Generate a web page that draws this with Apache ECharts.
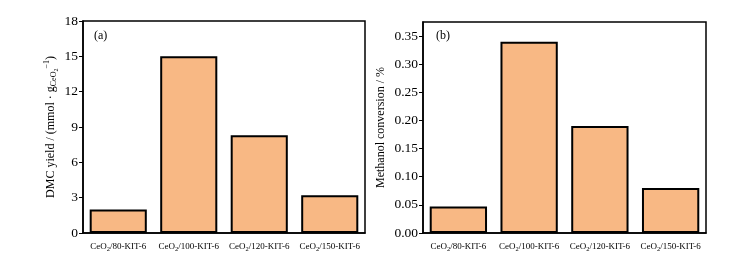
<!DOCTYPE html>
<html>
<head>
<meta charset="utf-8">
<script src="https://cdn.jsdelivr.net/npm/echarts@6/dist/echarts.min.js"></script>
<style>
html, body { margin: 0; padding: 0; background: #fff; }
#main { width: 748px; height: 255px; }
</style>
</head>
<body>
<div id="main"></div>
<script>
var catalysts = ['80-KIT-6', '100-KIT-6', '120-KIT-6', '150-KIT-6'];
var dmcYield = [2.0, 15.0, 8.3, 3.2];
var methanolConv = [0.047, 0.34, 0.19, 0.08];
var yieldTicks = [0, 3, 6, 9, 12, 15, 18];

var serif = '"Liberation Serif", "DejaVu Serif", serif';
var barColor = '#F8B884';

var chart = echarts.init(document.getElementById('main'));

function xAxisFor(idx) {
    return {
        type: 'category',
        gridIndex: idx,
        data: catalysts,
        axisLine: { lineStyle: { color: '#000', width: 1.5 } },
        axisTick: { inside: true, alignWithLabel: true, length: 4, lineStyle: { color: '#000' } },
        axisLabel: {
            interval: 0,
            color: '#000', fontFamily: serif, fontSize: 9, margin: 7,
            formatter: function (v) { return 'CeO{s|2}/' + v; },
            rich: { s: { fontSize: 6.5, verticalAlign: 'bottom', padding: [6, 0, 0, 0], fontFamily: serif } }
        }
    };
}

function seriesFor(idx, values) {
    return {
        type: 'bar',
        xAxisIndex: idx,
        yAxisIndex: idx,
        data: values,
        barCategoryGap: '19%',
        itemStyle: { color: barColor, borderColor: '#000', borderWidth: 2 }
    };
}

var option = {
    animation: false,
    backgroundColor: '#fff',
    grid: [
        { left: 83, right: 383, top: 21, bottom: 22, show: true, borderColor: '#000', borderWidth: 1.5 },
        { left: 423, right: 42, top: 22, bottom: 22, show: true, borderColor: '#000', borderWidth: 1.5 }
    ],
    title: [
        { text: '(a)', left: 89, top: 25, textStyle: { fontFamily: serif, fontSize: 12, fontWeight: 'normal', color: '#000' } },
        { text: '(b)', left: 431, top: 25, textStyle: { fontFamily: serif, fontSize: 12, fontWeight: 'normal', color: '#000' } }
    ],
    xAxis: [xAxisFor(0), xAxisFor(1)],
    yAxis: [
        {
            type: 'value', gridIndex: 0,
            min: yieldTicks[0], max: yieldTicks[yieldTicks.length - 1], interval: 3,
            splitLine: { show: false },
            axisLine: { show: true, lineStyle: { color: '#000', width: 1.5 } },
            axisTick: { show: true, length: 4, lineStyle: { color: '#000' } },
            axisLabel: { color: '#000', fontFamily: serif, fontSize: 13.5, margin: 5 },
            name: '{n|DMC yield / (mmol · g}{sub|CeO}{sub2|2}{sup|−1}{n|)}',
            nameLocation: 'middle', nameGap: 24,
            nameTextStyle: {
                rich: {
                    n: { fontFamily: serif, fontSize: 12, color: '#000' },
                    sub: { fontFamily: serif, fontSize: 8, color: '#000', padding: [7, 0, 0, 0] },
                    sub2: { fontFamily: serif, fontSize: 6, color: '#000', padding: [11, 0, 0, 0] },
                    sup: { fontFamily: serif, fontSize: 8, color: '#000', padding: [0, 0, 8, 0] }
                }
            }
        },
        {
            type: 'value', gridIndex: 1,
            min: 0, max: 0.375, interval: 0.05,
            splitLine: { show: false },
            axisLine: { show: true, lineStyle: { color: '#000', width: 1.5 } },
            axisTick: { show: true, length: 4, lineStyle: { color: '#000' } },
            axisLabel: {
                color: '#000', fontFamily: serif, fontSize: 13.5, margin: 5, showMaxLabel: false,
                formatter: function (v) { return v.toFixed(2); }
            },
            name: 'Methanol conversion / %',
            nameLocation: 'middle', nameGap: 36,
            nameTextStyle: { fontFamily: serif, fontSize: 12, color: '#000' }
        }
    ],
    series: [seriesFor(0, dmcYield), seriesFor(1, methanolConv)]
};

chart.setOption(option);
</script>
</body>
</html>
